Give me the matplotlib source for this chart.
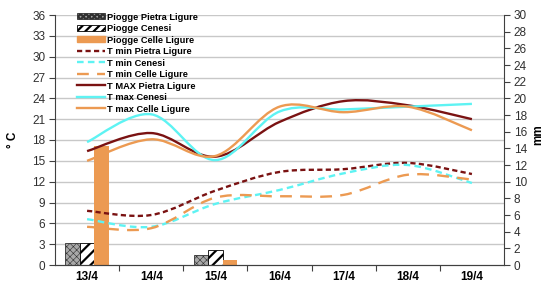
import numpy as np
import matplotlib
matplotlib.use("Agg")
import matplotlib.pyplot as plt
from matplotlib.path import Path
from matplotlib.patches import PathPatch, Patch
from matplotlib.lines import Line2D

plt.rcParams['font.family'] = ['Liberation Sans', 'DejaVu Sans']

# data
days = ['13/4', '14/4', '15/4', '16/4', '17/4', '18/4', '19/4']

rain_pietra = [2.7, 0, 1.2, 0, 0, 0, 0]
rain_cenesi = [2.7, 0, 1.8, 0, 0, 0, 0]
rain_celle = [14.3, 0, 0.6, 0, 0, 0, 0]

tmin_pietra = [7.8, 7.2, 10.7, 13.4, 13.8, 14.7, 13.1]
tmin_cenesi = [6.6, 5.5, 8.8, 10.8, 13.2, 14.4, 11.8]
tmin_celle = [5.5, 5.3, 9.7, 9.9, 10.1, 13.0, 12.3]

tmax_pietra = [16.4, 19.0, 15.6, 20.6, 23.6, 23.0, 21.0]
tmax_cenesi = [17.7, 21.7, 15.1, 22.1, 22.4, 22.8, 23.2]
tmax_celle = [15.0, 18.1, 15.7, 22.8, 22.0, 22.8, 19.4]

DARKRED = '#7a1212'
CYAN = '#5ef3f3'
ORANGE = '#ec9a52'


def smooth_path(xs, ys):
    """Bezier path through the points (Excel-style smoothed line)."""
    pts = np.column_stack([xs, ys]).astype(float)
    n = len(pts)
    verts = [pts[0]]
    codes = [Path.MOVETO]
    for i in range(n - 1):
        p0 = pts[i - 1] if i > 0 else pts[i]
        p1 = pts[i]
        p2 = pts[i + 1]
        p3 = pts[i + 2] if i + 2 < n else pts[i + 1]
        c1 = p1 + (p2 - p0) / 6.0
        c2 = p2 - (p3 - p1) / 6.0
        verts += [c1, c2, p2]
        codes += [Path.CURVE4] * 3
    return Path(verts, codes)


fig = plt.figure(figsize=(5.44, 2.82), dpi=100)
ax = fig.add_axes([55 / 544, 1 - 265 / 282, 449 / 544, 250 / 282])
ax2 = ax.twinx()
ax.set_zorder(ax2.get_zorder() + 1)
ax.patch.set_visible(False)

x = np.arange(len(days))

# grid (on the bar axes so bars hide it)
t_ticks = np.arange(0, 37, 3)
for t in t_ticks[1:]:
    ax2.axhline(t * 30 / 36, color='#c8c8c8', lw=1.0, zorder=0)

# rain bars on secondary axis
w = 0.227
plt.rcParams['hatch.linewidth'] = 0.4
ax2.bar(x - w, rain_pietra, w, color='#a8a8a8', edgecolor='#303030',
        hatch='xxxxx', linewidth=0.6, zorder=2)
plt.rcParams['hatch.linewidth'] = 1.6
ax2.bar(x, rain_cenesi, w, color='white', edgecolor='black',
        hatch='///', linewidth=0.6, zorder=2)
ax2.bar(x + w, rain_celle, w, color=ORANGE, linewidth=0, zorder=2)

# temperature lines
series = [
    (tmin_pietra, DARKRED, (0, (2.2, 1.4))),
    (tmin_cenesi, CYAN, (0, (2.8, 1.8))),
    (tmin_celle, ORANGE, (0, (5, 3.5))),
    (tmax_pietra, DARKRED, '-'),
    (tmax_cenesi, CYAN, '-'),
    (tmax_celle, ORANGE, '-'),
]
for vals, col, ls in series:
    ax.add_patch(PathPatch(smooth_path(x, vals), facecolor='none',
                           edgecolor=col, lw=1.7, linestyle=ls,
                           capstyle='butt'))

ax.set_xlim(-0.5, len(days) - 0.5)
ax.set_ylim(0, 36)
ax2.set_ylim(0, 30)
ax.set_yticks(t_ticks)
ax2.set_yticks(np.arange(0, 31, 2))

ax.set_xticks(x)
ax.set_xticklabels(days, fontweight='bold', fontsize=8.5)
ax.set_xticks(np.arange(0.5, len(days) - 0.5), minor=True)
ax.tick_params(axis='x', which='major', length=0, pad=4)
ax.tick_params(axis='x', which='minor', length=4, width=0.8,
               color='#404040', direction='out')
ax.tick_params(axis='y', length=4, width=0.8, color='#404040',
               labelsize=8.5, labelcolor='#303030', pad=3)
ax2.tick_params(axis='y', length=4, width=0.8, color='#404040',
                labelsize=8.5, labelcolor='#303030', pad=3)

for a in (ax, ax2):
    a.spines['top'].set_visible(False)
    a.spines['bottom'].set_color('#404040')
ax.spines['right'].set_visible(False)
ax2.spines['left'].set_visible(False)
ax.spines['left'].set_color('#404040')
ax2.spines['right'].set_color('#404040')

fig.text(13 / 544, 1 - 140 / 282, '° C', rotation=90, fontsize=8.5,
         fontweight='bold', ha='center', va='center')
fig.text(538 / 544, 1 - 135 / 282, 'mm', rotation=90, fontsize=8.5,
         fontweight='bold', ha='center', va='center')

# legend
handles = [
    Patch(facecolor='#a8a8a8', edgecolor='#303030', hatch='xxxxxx', lw=0.6),
    Patch(facecolor='white', edgecolor='black', hatch='////', lw=0.6),
    Patch(facecolor=ORANGE, edgecolor=ORANGE),
    Line2D([], [], color=DARKRED, lw=1.7, ls=(0, (2.2, 1.4))),
    Line2D([], [], color=CYAN, lw=1.7, ls=(0, (2.8, 1.8))),
    Line2D([], [], color=ORANGE, lw=1.7, ls=(0, (5, 3.5))),
    Line2D([], [], color=DARKRED, lw=1.7),
    Line2D([], [], color=CYAN, lw=1.7),
    Line2D([], [], color=ORANGE, lw=1.7),
]
labels = ['Piogge Pietra Ligure', 'Piogge Cenesi', 'Piogge Celle Ligure',
          'T min Pietra Ligure', 'T min Cenesi', 'T min Celle Ligure',
          'T MAX Pietra Ligure', 'T max Cenesi', 'T max Celle Ligure']
leg = ax.legend(handles, labels, loc='upper left',
                bbox_to_anchor=(22 / 449, 1.01), frameon=False,
                prop={'size': 6.7, 'weight': 'bold'}, handlelength=3.0,
                handleheight=0.6, handletextpad=0.2, labelspacing=0.27,
                borderpad=0, borderaxespad=0)

fig.savefig('out.png', dpi=100)
